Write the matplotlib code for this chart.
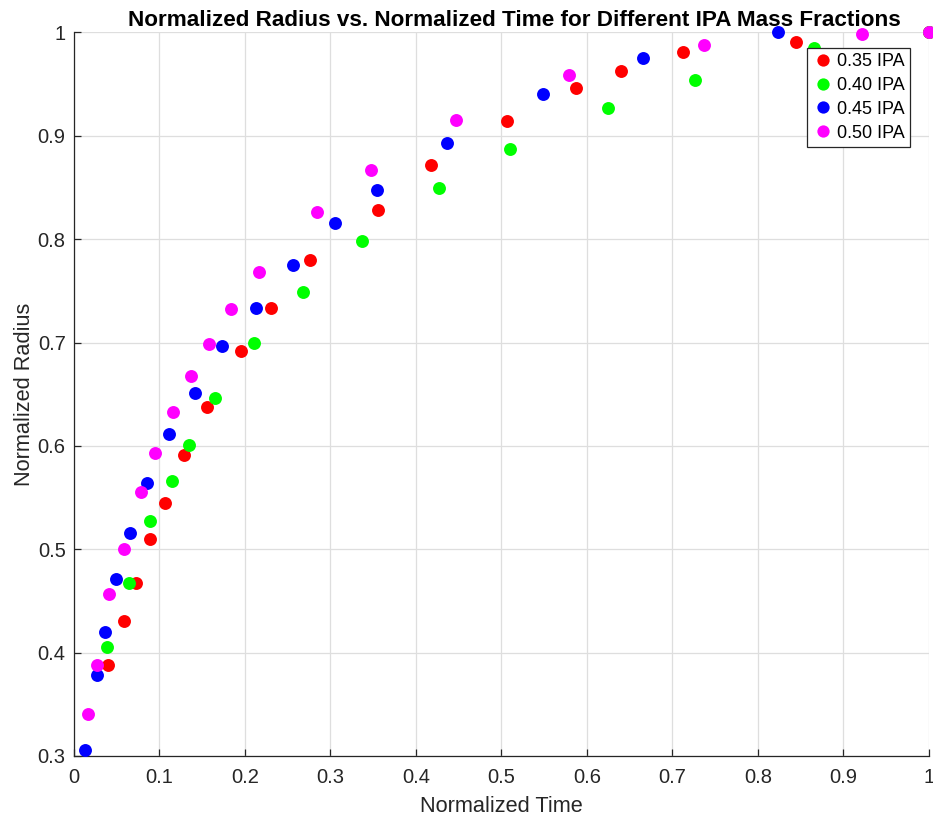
import matplotlib.pyplot as plt

plt.rcParams['font.family'] = ['Liberation Sans', 'DejaVu Sans']

# Data
labels = ['0.35 IPA', '0.40 IPA', '0.45 IPA', '0.50 IPA']
colors = ['#ff0000', '#00ff00', '#0000ff', '#ff00ff']

t_035 = [0.040, 0.058, 0.072, 0.089, 0.107, 0.129, 0.155, 0.195, 0.231, 0.276,
         0.356, 0.418, 0.507, 0.587, 0.640, 0.712, 0.845, 1.0]
r_035 = [0.388, 0.431, 0.467, 0.510, 0.545, 0.591, 0.638, 0.692, 0.733, 0.780,
         0.828, 0.872, 0.914, 0.946, 0.963, 0.981, 0.991, 1.0]

t_040 = [0.039, 0.064, 0.089, 0.115, 0.134, 0.165, 0.210, 0.268, 0.337, 0.427,
         0.510, 0.624, 0.726, 0.866, 1.0]
r_040 = [0.405, 0.467, 0.527, 0.566, 0.601, 0.646, 0.700, 0.749, 0.798, 0.850,
         0.887, 0.927, 0.954, 0.985, 1.0]

t_045 = [0.013, 0.027, 0.036, 0.049, 0.065, 0.085, 0.111, 0.141, 0.173, 0.213,
         0.256, 0.305, 0.354, 0.436, 0.548, 0.666, 0.823]
r_045 = [0.306, 0.378, 0.420, 0.471, 0.516, 0.564, 0.612, 0.651, 0.697, 0.733,
         0.775, 0.816, 0.848, 0.893, 0.940, 0.975, 1.0]

t_050 = [0.016, 0.027, 0.041, 0.058, 0.078, 0.095, 0.116, 0.137, 0.158, 0.184,
         0.216, 0.284, 0.347, 0.447, 0.579, 0.737, 0.922, 1.0]
r_050 = [0.341, 0.388, 0.457, 0.500, 0.555, 0.593, 0.633, 0.668, 0.699, 0.732,
         0.768, 0.826, 0.867, 0.915, 0.959, 0.988, 0.999, 1.0]

series = [(t_035, r_035), (t_040, r_040), (t_045, r_045), (t_050, r_050)]

fig = plt.figure(figsize=(9.33, 8.18), dpi=100)
ax = fig.add_axes([0.0793, 0.0758, 0.9164, 0.8845])

for (t, r), c, lab in zip(series, colors, labels):
    ax.plot(t, r, 'o', color=c, markersize=9.3, markeredgewidth=0, label=lab,
            clip_on=False, zorder=3)

ax.set_xlim(0, 1)
ax.set_ylim(0.3, 1)
ax.set_xticks([i / 10 for i in range(11)])
ax.set_xticklabels(['0', '0.1', '0.2', '0.3', '0.4', '0.5', '0.6', '0.7', '0.8', '0.9', '1'])
ax.set_yticks([0.3, 0.4, 0.5, 0.6, 0.7, 0.8, 0.9, 1.0])
ax.set_yticklabels(['0.3', '0.4', '0.5', '0.6', '0.7', '0.8', '0.9', '1'])

ax.grid(True, color='#dedede', linewidth=0.9)
ax.set_axisbelow(True)
ax.tick_params(direction='in', length=5, labelsize=14.5, colors='#262626', width=0.9)
ax.tick_params(axis='x', pad=9)
ax.tick_params(axis='y', pad=6)
ax.spines['top'].set_visible(False)
ax.spines['right'].set_visible(False)
for s in ('left', 'bottom'):
    ax.spines[s].set_color('#262626')
    ax.spines[s].set_linewidth(0.9)

ax.set_xlabel('Normalized Time', fontsize=15.7, color='#262626', labelpad=6)
ax.set_ylabel('Normalized Radius', fontsize=15.7, color='#262626', labelpad=2)
ax.set_title('Normalized Radius vs. Normalized Time for Different IPA Mass Fractions',
             fontsize=16.2, fontweight='bold', pad=5, x=0.515)

leg = ax.legend(loc='upper right', bbox_to_anchor=(0.978, 0.979), fontsize=13,
                frameon=True, fancybox=False, edgecolor='#262626',
                handletextpad=0.25, handlelength=1.1, borderpad=0.3,
                labelspacing=0.38, borderaxespad=0, markerscale=0.95)
leg.get_frame().set_linewidth(0.9)
leg.get_frame().set_alpha(1)

plt.savefig('out.png', dpi=100)
